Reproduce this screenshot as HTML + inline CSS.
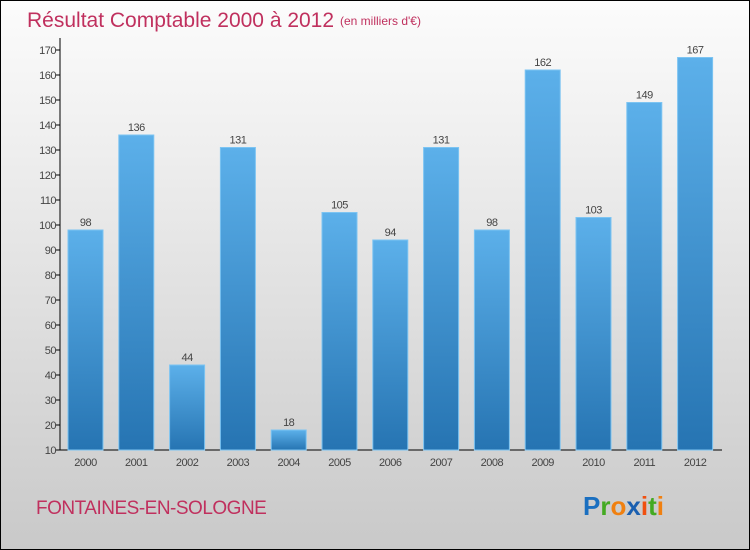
<!DOCTYPE html>
<html><head><meta charset="utf-8"><style>
html,body{margin:0;padding:0;}
body{width:750px;height:550px;overflow:hidden;font-family:"Liberation Sans",sans-serif;}
#wrap{position:absolute;left:0;top:0;width:748px;height:548px;border:1px solid #000;background:linear-gradient(#fcfcfc,#c9c9c9);}
</style></head><body>
<div id="wrap">
<svg width="750" height="550" style="position:absolute;left:-1px;top:-1px">
<defs><linearGradient id="bg" x1="0" y1="0" x2="0" y2="1"><stop offset="0" stop-color="#5cb0ea"/><stop offset="1" stop-color="#2674b2"/></linearGradient></defs>
<text x="27" y="27" font-size="21" fill="#c0305e">Résultat Comptable 2000 à 2012</text>
<text x="340" y="25" font-size="12" fill="#c0305e">(en milliers d'€)</text>
<g id="axes"></g><g id="bars"></g>
<text x="36" y="514" font-size="19" fill="#c0305e" letter-spacing="-0.5">FONTAINES-EN-SOLOGNE</text>
<text x="583" y="515" font-size="26" font-weight="bold"><tspan fill="#1a6fc0">P</tspan><tspan fill="#44aa22">r</tspan><tspan fill="#f08010">o</tspan><tspan fill="#1a5fb0">x</tspan><tspan fill="#f05010">i</tspan><tspan fill="#44aa22">t</tspan><tspan fill="#f08010">i</tspan></text>
</svg></div>
<script>
const categories=["2000","2001","2002","2003","2004","2005","2006","2007","2008","2009","2010","2011","2012"];
const values=[98,136,44,131,18,105,94,131,98,162,103,149,167];
const yTicks=[10,20,30,40,50,60,70,80,90,100,110,120,130,140,150,160,170];
const NS="http://www.w3.org/2000/svg";
function y(v){return 450-(v-10)*2.5;}
function x(i){return 68+i*50.8;}
function mk(t,a,p){const e=document.createElementNS(NS,t);for(const k in a)e.setAttribute(k,a[k]);p.appendChild(e);return e;}
const ax=document.getElementById('axes'),bs=document.getElementById('bars');
let l=mk('line',{x1:60,y1:38,x2:60,y2:450,stroke:'#000'},ax);


l=mk('line',{x1:60,y1:450,x2:722,y2:450,stroke:'#000'},ax);


yTicks.forEach(v=>{
 mk('line',{x1:56,x2:60,y1:y(v),y2:y(v),stroke:'#000'},ax);
 const t=mk('text',{x:56,y:y(v)+4,'font-size':11,'text-anchor':'end',fill:'#444','letter-spacing':'-0.5'},ax);
 t.textContent=v;
 
 
});
categories.forEach((c,i)=>{
 const r=mk('rect',{x:x(i),y:y(values[i]),width:35,height:450-y(values[i]),fill:'url(#bg)',stroke:'#7cc4f2','stroke-width':1},bs);
 
 
 const t=mk('text',{x:x(i)+17.5,y:y(values[i])-4,'font-size':11,'text-anchor':'middle',fill:'#444','letter-spacing':'-0.5'},bs);
 t.textContent=values[i];
 
 
 const c2=mk('text',{x:x(i)+17.5,y:466,'font-size':11,'text-anchor':'middle',fill:'#444','letter-spacing':'-0.5'},ax);
 c2.textContent=c;
 
 
});
</script>
</body></html>
